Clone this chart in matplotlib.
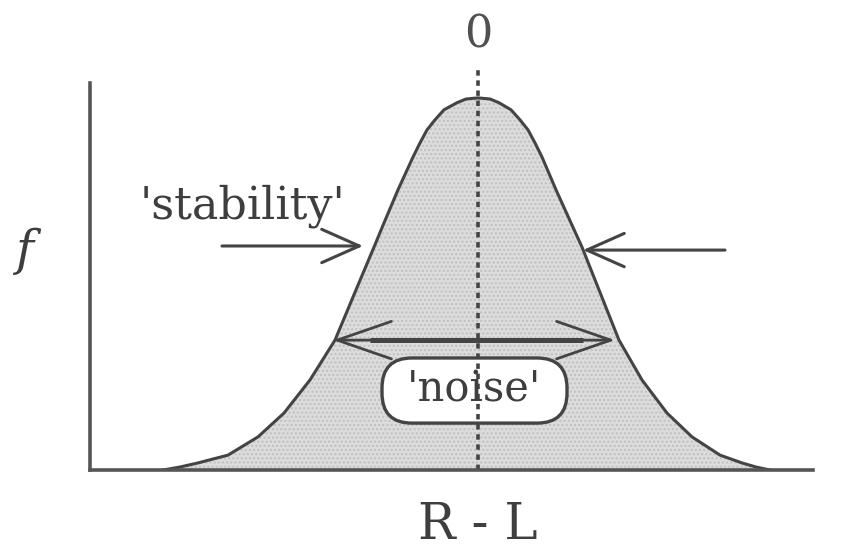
import numpy as np
import matplotlib
matplotlib.use('Agg')
from matplotlib import pyplot as plt
from matplotlib.patches import FancyBboxPatch

plt.rcParams['font.family'] = ['DejaVu Serif']

# curve: height (peak = 1) and horizontal distance from 0
heights = [0.0, 0.008, 0.019, 0.040, 0.089, 0.153, 0.242, 0.349, 0.484,
           0.599, 0.664, 0.753, 0.841, 0.879, 0.914, 0.941, 0.968, 0.987,
           0.997, 1.0]
left_dist = [3.15, 2.98, 2.80, 2.50, 2.20, 1.94, 1.68, 1.43, 1.22,
             1.04, 0.94, 0.80, 0.65, 0.58, 0.51, 0.43, 0.34, 0.21,
             0.12, 0.0]
right_dist = [2.92, 2.78, 2.64, 2.42, 2.14, 1.89, 1.64, 1.41, 1.21,
              1.04, 0.93, 0.78, 0.64, 0.57, 0.50, 0.42, 0.33, 0.21,
              0.12, 0.0]

# arrows: (start x, end x, y)
stab_left = (-2.56, -1.15, 0.602)
stab_right = (2.47, 1.05, 0.591)
noise_span = (-1.45, 1.37, 0.349)
noise_shaft = (-1.08, 1.05)

x = np.concatenate([-np.array(left_dist), np.array(right_dist)[::-1][1:]])
y = np.concatenate([heights, heights[::-1][1:]])

ink = '#444444'
txt = '#3e3e3e'

fig = plt.figure(figsize=(8.56, 5.5), dpi=100)
ax = fig.add_axes([90/856, 80/550, 723/856, 387/550])
ax.set_xlim(-3.88, 3.35)
ax.set_ylim(0, 1.04)

ax.fill_between(x, y, 0, facecolor='#dcdcdc', edgecolor='#c0c0c0',
                hatch='....', linewidth=0)
ax.plot(x, y, color=ink, lw=2.2, solid_joinstyle='round')

# dotted centre line
ax.plot([0, 0], [0, 1.083], color=ink, lw=2.6, linestyle=(0, (1.5, 1.3)),
        clip_on=False)

for s in ['top', 'right']:
    ax.spines[s].set_visible(False)
for s in ['left', 'bottom']:
    ax.spines[s].set_linewidth(2.6)
    ax.spines[s].set_color('#555555')
ax.set_xticks([])
ax.set_yticks([])

arrow_kw = dict(arrowstyle='->, head_length=0.9, head_width=0.4', color=ink,
                lw=2.2, shrinkA=0, shrinkB=0, mutation_scale=30)
for x0, x1, yy in [stab_left, stab_right]:
    ax.annotate('', xy=(x1, yy), xytext=(x0, yy), arrowprops=arrow_kw)
ax.annotate('', xy=(noise_span[1], noise_span[2]),
            xytext=(noise_span[0], noise_span[2]),
            arrowprops=dict(arrowstyle='<->, head_length=1.3, head_width=0.45',
                            color=ink, lw=2.0, shrinkA=0, shrinkB=0,
                            mutation_scale=30))
ax.plot(noise_shaft, [noise_span[2]] * 2, color=ink, lw=3.6,
        solid_capstyle='butt')

# rounded box round 'noise'
box = FancyBboxPatch((-0.96, 0.126), 1.85, 0.175,
                     boxstyle='round,pad=0,rounding_size=0.3',
                     mutation_aspect=100/372, fc='white', ec=ink, lw=2.4)
ax.add_patch(box)
ax.text(-0.035, 0.215, "'noise'", fontsize=30, ha='center', va='center',
        color=txt)

ax.text(-2.35, 0.677, "'stability'", fontsize=32, ha='center', va='baseline',
        color=txt)
ax.text(0, 1.168, '0', fontsize=32, ha='center', va='center', color='#505050',
        clip_on=False)
ax.text(0, -0.148, 'R - L', fontsize=36, ha='center', va='center',
        color=txt, clip_on=False)
ax.text(-4.53, 0.589, 'f', fontsize=35, style='italic', ha='center',
        va='center', color=txt, clip_on=False)

plt.savefig('out.png', dpi=100)
